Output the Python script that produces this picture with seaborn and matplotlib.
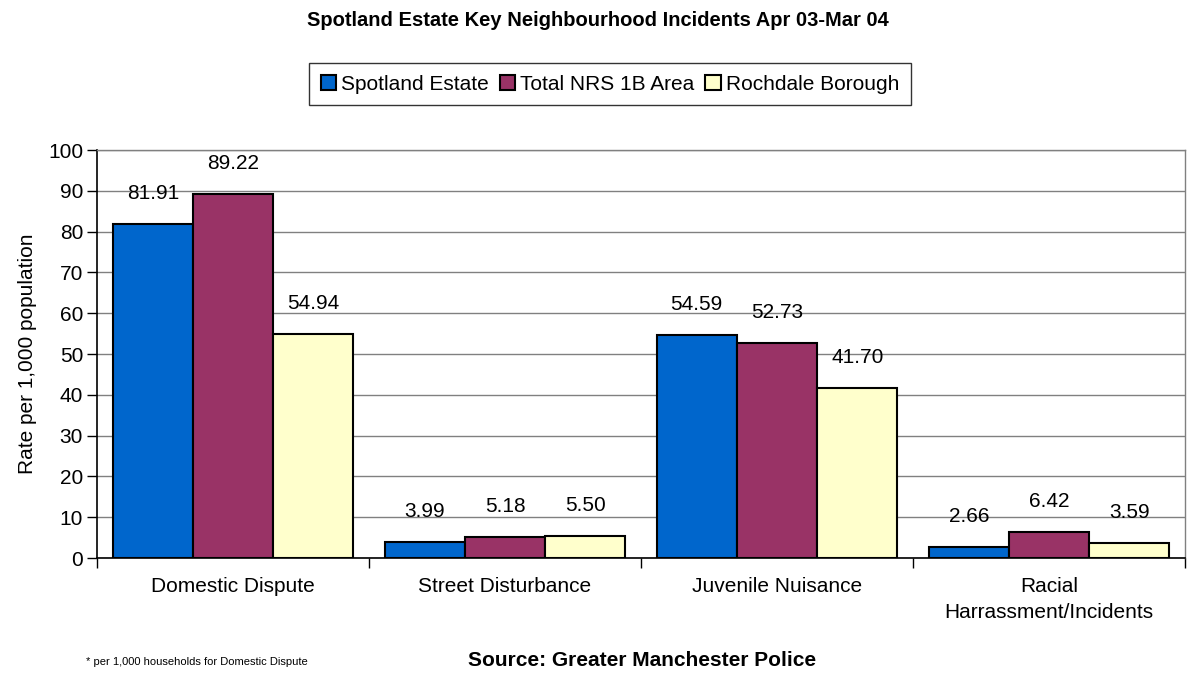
import matplotlib
matplotlib.use("Agg")
import matplotlib.pyplot as plt
import seaborn as sns
import pandas as pd
import numpy as np

categories = ["Domestic Dispute", "Street Disturbance", "Juvenile Nuisance", "Racial\nHarrassment/Incidents"]
series_names = ["Spotland Estate", "Total NRS 1B Area", "Rochdale Borough"]
spotland = [81.91, 3.99, 54.59, 2.66]
nrs1b = [89.22, 5.18, 52.73, 6.42]
rochdale = [54.94, 5.50, 41.70, 3.59]
colors = ["#0066CC", "#993366", "#FFFFCC"]

rows = []
for name, vals in zip(series_names, [spotland, nrs1b, rochdale]):
    for c, v in zip(categories, vals):
        rows.append({"Category": c, "Series": name, "Value": v})
df = pd.DataFrame(rows)

sns.set_theme(style="white")
plt.rcParams["font.family"] = ["Liberation Sans", "DejaVu Sans"]
plt.rcParams["text.color"] = "black"
plt.rcParams["axes.labelcolor"] = "black"
plt.rcParams["xtick.color"] = "black"
plt.rcParams["ytick.color"] = "black"

fig = plt.figure(figsize=(11.88, 6.73), dpi=100)
ax = fig.add_axes([97/1188, 1-558/673, (1185-97)/1188, (558-150)/673])

sns.barplot(data=df, x="Category", y="Value", hue="Series", palette=colors,
            width=0.885, edgecolor="black", linewidth=1.5, ax=ax, legend=True,
            saturation=1)

ax.set_ylim(0, 100)
ax.set_xlim(-0.5, 3.5)
ax.set_yticks(np.arange(0, 101, 10))
ax.yaxis.grid(True, color="#808080", linewidth=1)
ax.set_axisbelow(True)
ax.tick_params(axis="y", which="major", left=True, length=7, width=1, color="black",
               labelsize=15, pad=3)
ax.tick_params(axis="x", which="major", length=0, labelsize=15, pad=14)
ax.set_xticks(np.arange(-0.5, 3.6, 1.0), minor=True)
ax.tick_params(axis="x", which="minor", bottom=True, length=7, width=1, color="black")
ax.set_xlabel("")
ax.set_ylabel("Rate per 1,000 population", fontsize=15, labelpad=8)
for lbl in ax.get_xticklabels():
    lbl.set_verticalalignment("top")
    lbl.set_linespacing(1.45)

for s in ["left", "bottom"]:
    ax.spines[s].set_color("black")
    ax.spines[s].set_linewidth(1.2)
for s in ["right", "top"]:
    ax.spines[s].set_color("#808080")
    ax.spines[s].set_linewidth(1)

for cont in ax.containers:
    for bar in cont:
        h = bar.get_height()
        ax.annotate(f"{h:.2f}", (bar.get_x() + bar.get_width()/2, h),
                    xytext=(0, 22), textcoords="offset points",
                    ha="center", va="center", fontsize=15)

handles, labels = ax.get_legend_handles_labels()
ax.get_legend().remove()
leg = fig.legend(handles, labels, loc="center", bbox_to_anchor=(610/1188, 1-84/673),
                 ncol=3, fontsize=15, frameon=True, fancybox=False, edgecolor="black",
                 handlelength=0.75, handleheight=0.75, handletextpad=0.25, columnspacing=0.5,
                 borderpad=0.55)
leg.get_frame().set_linewidth(1)

fig.text(598/1188, 1-20/673, "Spotland Estate Key Neighbourhood Incidents Apr 03-Mar 04",
         ha="center", va="center", fontsize=14.5, fontweight="bold")
fig.text(86/1188, 1-662/673, "* per 1,000 households for Domestic Dispute",
         ha="left", va="center", fontsize=8)
fig.text(642/1188, 1-660/673, "Source: Greater Manchester Police",
         ha="center", va="center", fontsize=15, fontweight="bold")

fig.savefig("out.png", dpi=100)
